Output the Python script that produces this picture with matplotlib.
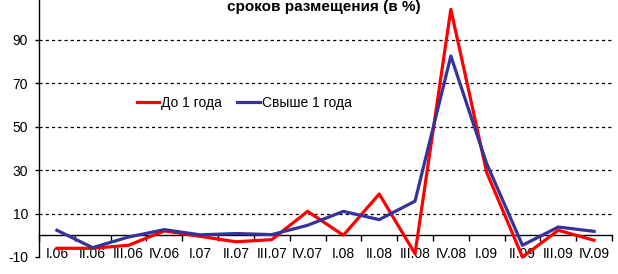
import numpy as np
import matplotlib.pyplot as plt

plt.rcParams['font.family'] = ['Liberation Sans', 'DejaVu Sans']

quarters = ['I.06', 'II.06', 'III.06', 'IV.06', 'I.07', 'II.07', 'III.07', 'IV.07',
            'I.08', 'II.08', 'III.08', 'IV.08', 'I.09', 'II.09', 'III.09', 'IV.09']
short_term = [-6, -6, -4.6, 2, -0.5, -3, -2, 11, 0, 19, -8.5, 104, 29, -10, 2.3, -2.3]
long_term = [2.3, -5.7, -0.8, 2.6, 0.2, 0.8, 0.3, 4.6, 11, 7.2, 15.7, 82.5, 33, -4.6, 3.8, 1.8]
yticks = [-10, 10, 30, 50, 70, 90]

fig = plt.figure(figsize=(6.18, 2.74), dpi=100)
ax = fig.add_axes([39 / 618, 1 - 257 / 274, (612 - 39) / 618, 257 / 274])

x = np.arange(len(quarters)) + 0.5
ax.plot(x, short_term, color='#ff0000', lw=2.3, label='До 1 года', clip_on=False, zorder=3)
ax.plot(x, long_term, color='#333399', lw=2.3, label='Свыше 1 года', clip_on=False, zorder=3)

ax.set_xlim(0, len(quarters))
ax.set_ylim(-10, 108.3)

ax.set_yticks(yticks)
ax.set_yticklabels([str(v) for v in yticks], fontsize=10)
for v in yticks[1:]:
    ax.axhline(v, color='black', lw=0.9, ls=(0, (2.5, 2.5)), zorder=1)

ax.spines['top'].set_visible(False)
ax.spines['right'].set_visible(False)
ax.spines['bottom'].set_position(('data', 0))
ax.spines['left'].set_linewidth(1)
ax.spines['bottom'].set_linewidth(1)

ax.set_xticks(np.arange(len(quarters) + 1))
ax.set_xticklabels([])
ax.set_xticks(x, minor=True)
ax.set_xticklabels(quarters, minor=True, fontsize=10)
ax.tick_params(axis='x', which='major', direction='out', length=4, width=1)
ax.tick_params(axis='x', which='minor', length=0, pad=8.5)
ax.tick_params(axis='y', direction='out', length=3, width=1, pad=5)

ax.legend(loc='center left', bbox_to_anchor=(137 / 618, 1 - 103 / 274),
          bbox_transform=fig.transFigure, ncol=2, frameon=False, fontsize=10,
          handlelength=1.6, handletextpad=0.15, columnspacing=1.1,
          borderpad=0, borderaxespad=0)

fig.text(324 / 618, 1 - 11 / 274, 'сроков размещения (в %)', ha='center', va='baseline',
         fontsize=11, fontweight='bold')

fig.savefig('out.png', dpi=100)
